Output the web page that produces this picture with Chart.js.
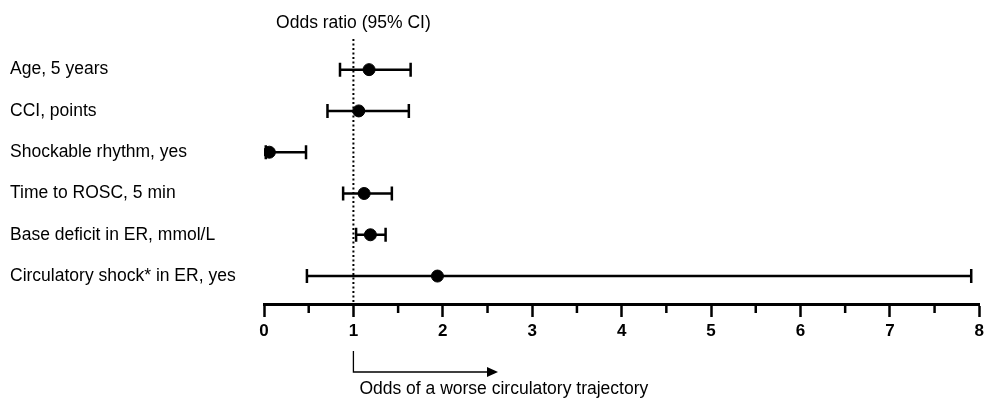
<!DOCTYPE html>
<html>
<head>
<meta charset="utf-8">
<script src="https://cdn.jsdelivr.net/npm/chart.js@4/dist/chart.umd.min.js"></script>
<style>
  body { margin: 0; background: #fff; }
  #wrap { width: 988px; height: 399px; position: relative; }
</style>
</head>
<body>
<div id="wrap"><canvas id="forestChart"></canvas></div>
<script>
// Forest plot data
const rowLabels = [
    'Age, 5 years',
    'CCI, points',
    'Shockable rhythm, yes',
    'Time to ROSC, 5 min',
    'Base deficit in ER, mmol/L',
    'Circulatory shock* in ER, yes'
];
const oddsRatio = [1.175, 1.06, 0.06, 1.12, 1.19, 1.94];
const ciLower = [0.85, 0.71, 0.02, 0.885, 1.03, 0.48];
const ciUpper = [1.64, 1.62, 0.47, 1.43, 1.36, 7.91];
const xTickValues = [0, 1, 2, 3, 4, 5, 6, 7, 8];
const minorTickValues = [0.5, 1.5, 2.5, 3.5, 4.5, 5.5, 6.5, 7.5];

const FONT = '"Liberation Sans", Arial, Helvetica, sans-serif';

// Whiskers + reference line at OR = 1
const errorBars = {
    id: 'errorBars',
    beforeDatasetsDraw(chart) {
        const { ctx, scales: { x, y } } = chart;
        ctx.save();

        // dotted line at 1
        const x1 = x.getPixelForValue(1);
        ctx.strokeStyle = '#000';
        ctx.lineWidth = 2;
        ctx.setLineDash([2, 2.5]);
        ctx.beginPath();
        ctx.moveTo(x1, 39);
        ctx.lineTo(x1, y.bottom);
        ctx.stroke();
        ctx.setLineDash([]);

        ctx.lineWidth = 2.5;
        ctx.lineCap = 'butt';
        rowLabels.forEach((_, i) => {
            const py = y.getPixelForValue(i);
            const xl = x.getPixelForValue(ciLower[i]);
            const xr = x.getPixelForValue(ciUpper[i]);
            ctx.beginPath();
            ctx.moveTo(xl, py);
            ctx.lineTo(xr, py);
            ctx.moveTo(xl, py - 7);
            ctx.lineTo(xl, py + 7);
            ctx.moveTo(xr, py - 7);
            ctx.lineTo(xr, py + 7);
            ctx.stroke();
        });
        ctx.restore();
    },
    afterDraw(chart) {
        const { ctx, scales: { x, y } } = chart;
        ctx.save();
        ctx.strokeStyle = '#000';
        ctx.fillStyle = '#000';

        // minor ticks
        ctx.lineWidth = 2.5;
        minorTickValues.forEach(v => {
            const px = x.getPixelForValue(v);
            ctx.beginPath();
            ctx.moveTo(px, y.bottom);
            ctx.lineTo(px, y.bottom + 9);
            ctx.stroke();
        });

        // title
        const x1 = x.getPixelForValue(1);
        ctx.font = '17.5px ' + FONT;
        ctx.textAlign = 'center';
        ctx.textBaseline = 'middle';
        ctx.fillText('Odds ratio (95% CI)', x1, 23);

        // direction arrow
        ctx.lineWidth = 1.3;
        ctx.beginPath();
        ctx.moveTo(x1, 351);
        ctx.lineTo(x1, 372);
        ctx.lineTo(488, 372);
        ctx.stroke();
        ctx.beginPath();
        ctx.moveTo(498, 372);
        ctx.lineTo(487, 367);
        ctx.lineTo(487, 377);
        ctx.closePath();
        ctx.fill();

        ctx.textAlign = 'left';
        ctx.fillText('Odds of a worse circulatory trajectory', x1 + 6, 389);
        ctx.restore();
    }
};

const ctx = document.getElementById('forestChart').getContext('2d');
const forestChart = new Chart(ctx, {
    type: 'scatter',
    data: {
        datasets: [{
            data: oddsRatio.map((v, i) => ({ x: v, y: i })),
            backgroundColor: '#000',
            borderColor: '#000',
            pointRadius: 6,
            pointHoverRadius: 6
        }]
    },
    options: {
        responsive: true,
        maintainAspectRatio: false,
        animation: false,
        layout: { padding: { left: 10, right: 7, top: 49, bottom: 0 } },
        plugins: {
            legend: { display: false },
            tooltip: { enabled: false }
        },
        scales: {
            x: {
                type: 'linear',
                min: 0,
                max: 8,
                afterBuildTicks: scale => {
                    scale.ticks = xTickValues.map(v => ({ value: v }));
                },
                afterFit: scale => { scale.height = 95; },
                border: { display: true, color: '#000', width: 3 },
                grid: {
                    drawOnChartArea: false,
                    drawTicks: true,
                    tickLength: 13,
                    tickWidth: 2.5,
                    tickColor: '#000'
                },
                ticks: {
                    color: '#000',
                    padding: 4,
                    font: { family: FONT, size: 17, weight: 'bold' },
                    maxRotation: 0
                }
            },
            y: {
                type: 'linear',
                reverse: true,
                min: -0.5,
                max: 5.677,
                afterBuildTicks: scale => {
                    scale.ticks = rowLabels.map((_, i) => ({ value: i }));
                },
                afterFit: scale => { scale.width = 254; },
                border: { display: false },
                grid: { display: false },
                ticks: {
                    color: '#000',
                    crossAlign: 'far',
                    font: { family: FONT, size: 17.5 },
                    callback: value => rowLabels[value]
                }
            }
        }
    },
    plugins: [errorBars]
});
</script>
</body>
</html>
